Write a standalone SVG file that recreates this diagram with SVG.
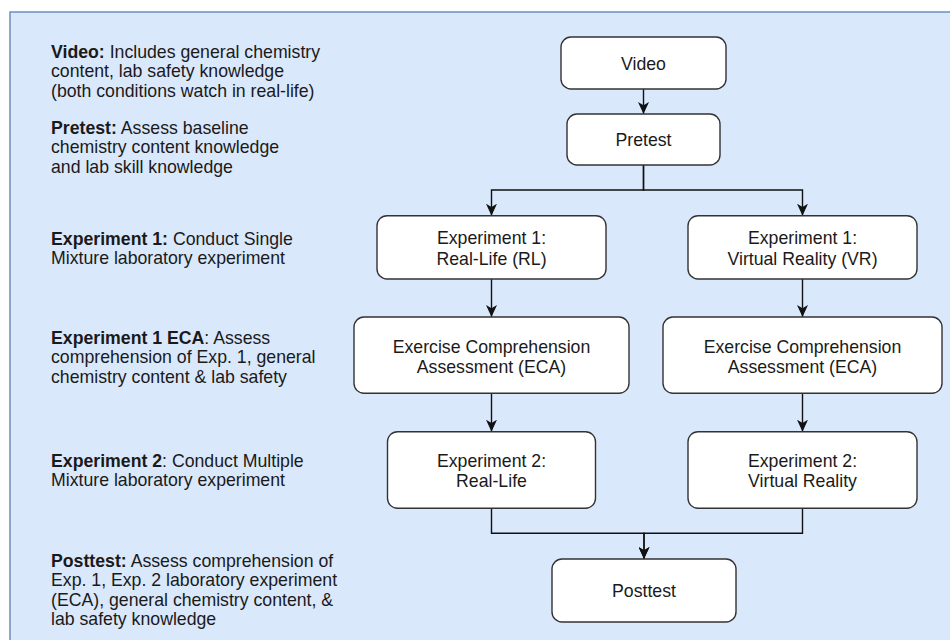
<svg xmlns="http://www.w3.org/2000/svg" width="950" height="640" viewBox="0 0 950 640">
  <style>
    .node rect { fill: #ffffff; stroke: #333333; stroke-width: 1.4; }
    .node text, .note text { font-family: "Liberation Sans", Arial, Helvetica, sans-serif; font-size: 17.7px; fill: #1a1a1a; }
    .node text { text-anchor: middle; }
    .note text { text-anchor: start; }
    .b { font-weight: bold; }
    .conn path { fill: none; stroke: #111111; stroke-width: 1.4; marker-end: url(#arrow); }
  </style>
  <defs>
    <marker id="arrow" viewBox="0 -5.5 12 11" refX="12" refY="0" markerWidth="12" markerHeight="11" markerUnits="userSpaceOnUse" orient="auto">
      <path d="M0,-5.5 L12,0 L0,5.5 L3.2,0 Z" fill="#111111" stroke="none"/>
    </marker>
  </defs>
  <rect x="0" y="0" width="950" height="640" fill="#ffffff"/>
  <rect id="panel" x="10" y="12" width="960" height="650" fill="#dae8fc" stroke="#6c8ebf" stroke-width="1.5"/>

  <g id="notes" class="note">
    <text x="51" y="57.5"><tspan class="b">Video:</tspan> Includes general chemistry</text>
    <text x="51" y="77">content, lab safety knowledge</text>
    <text x="51" y="96.5">(both conditions watch in real-life)</text>
    <text x="51" y="133.5"><tspan class="b">Pretest:</tspan> Assess baseline</text>
    <text x="51" y="153">chemistry content knowledge</text>
    <text x="51" y="172.5">and lab skill knowledge</text>
    <text x="51" y="244.5"><tspan class="b">Experiment 1:</tspan> Conduct Single</text>
    <text x="51" y="264">Mixture laboratory experiment</text>
    <text x="51" y="343.5"><tspan class="b">Experiment 1 ECA</tspan>: Assess</text>
    <text x="51" y="363">comprehension of Exp. 1, general</text>
    <text x="51" y="382.5">chemistry content &amp; lab safety</text>
    <text x="51" y="466.5"><tspan class="b">Experiment 2</tspan>: Conduct Multiple</text>
    <text x="51" y="486">Mixture laboratory experiment</text>
    <text x="51" y="566.5"><tspan class="b">Posttest:</tspan> Assess comprehension of</text>
    <text x="51" y="586">Exp. 1, Exp. 2 laboratory experiment</text>
    <text x="51" y="605.5">(ECA), general chemistry content, &amp;</text>
    <text x="51" y="625">lab safety knowledge</text>
  </g>

  <g id="connectors" class="conn">
    <path d="M643.5,89 V114"/>
    <path d="M643.5,165 V190 H491.5 V215.7"/>
    <path d="M643.5,165 V190 H802.5 V215.7"/>
    <path d="M491.5,279 V317"/>
    <path d="M802.5,279 V317"/>
    <path d="M491.5,393.3 V431.7"/>
    <path d="M802.5,393.3 V431.7"/>
    <path d="M491.5,508.3 V533.3 H644 V559"/>
    <path d="M802.5,508.3 V533.3 H644 V559"/>
  </g>

  <g id="video" class="node">
    <rect x="561" y="37" width="165" height="52" rx="10"/>
    <text x="643.5" y="69.5">Video</text>
  </g>
  <g id="pretest" class="node">
    <rect x="567" y="114" width="153" height="51" rx="10"/>
    <text x="643.5" y="146">Pretest</text>
  </g>
  <g id="exp1-rl" class="node">
    <rect x="377" y="215.7" width="229" height="63.3" rx="10"/>
    <text x="491.5" y="244">Experiment 1:</text>
    <text x="491.5" y="264.8">Real-Life (RL)</text>
  </g>
  <g id="exp1-vr" class="node">
    <rect x="688" y="215.7" width="229" height="63.3" rx="10"/>
    <text x="802.5" y="244">Experiment 1:</text>
    <text x="802.5" y="264.8">Virtual Reality (VR)</text>
  </g>
  <g id="eca-rl" class="node">
    <rect x="354" y="317" width="275" height="76.3" rx="10"/>
    <text x="491.5" y="352.7">Exercise Comprehension</text>
    <text x="491.5" y="373.3">Assessment (ECA)</text>
  </g>
  <g id="eca-vr" class="node">
    <rect x="663" y="317" width="279" height="76.3" rx="10"/>
    <text x="802.5" y="352.7">Exercise Comprehension</text>
    <text x="802.5" y="373.3">Assessment (ECA)</text>
  </g>
  <g id="exp2-rl" class="node">
    <rect x="387.5" y="431.7" width="208" height="76.6" rx="10"/>
    <text x="491.5" y="466.7">Experiment 2:</text>
    <text x="491.5" y="487.3">Real-Life</text>
  </g>
  <g id="exp2-vr" class="node">
    <rect x="688" y="431.7" width="229" height="76.6" rx="10"/>
    <text x="802.5" y="466.7">Experiment 2:</text>
    <text x="802.5" y="487.3">Virtual Reality</text>
  </g>
  <g id="posttest" class="node">
    <rect x="552" y="559" width="184" height="63" rx="10"/>
    <text x="644" y="597">Posttest</text>
  </g>
</svg>
